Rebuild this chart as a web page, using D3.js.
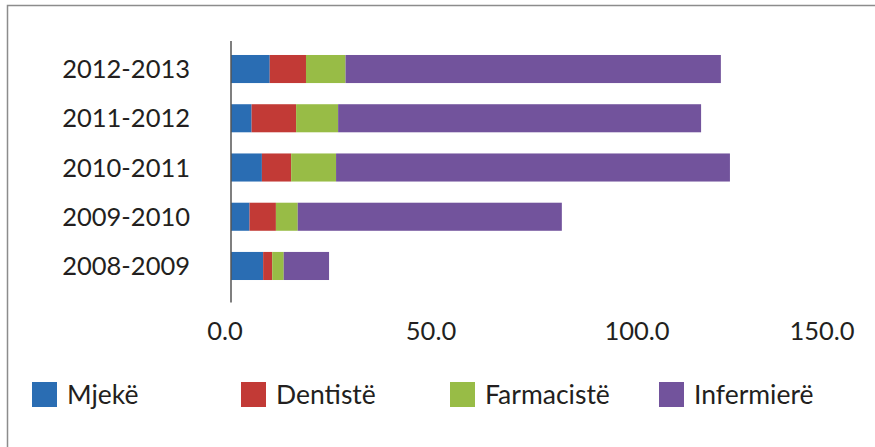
<!DOCTYPE html>
<html>
<head>
<meta charset="utf-8">
<script src="https://cdn.jsdelivr.net/npm/d3@7"></script>
<style>
  body { margin: 0; background: #fff; }
  text { font-family: Lato, "Open Sans", sans-serif; fill: #231f20; }
</style>
</head>
<body>
<div id="chart"></div>
<script>
// categories, bottom to top
var years = ["2008-2009", "2009-2010", "2010-2011", "2011-2012", "2012-2013"];
var series = ["Mjekë", "Dentistë", "Farmacistë", "Infermierë"];
var colors = ["#2a6db3", "#c23a36", "#98bc46", "#72539c"];

// values, same order as years
var mjeke      = [7.8, 4.5, 7.5, 5.0, 9.4];
var dentiste   = [2.2, 6.4, 7.1, 10.8, 8.8];
var farmaciste = [2.8, 5.3, 10.9, 10.2, 9.6];
var infermiere = [11.0, 64.1, 95.6, 88.1, 91.1];

var xTicks = [0, 50, 100, 150];

var width = 875, height = 447;

var svg = d3.select("#chart")
  .append("svg")
  .attr("width", width)
  .attr("height", height);

// outer frame
svg.append("rect")
  .attr("x", 7.5).attr("y", 5.5)
  .attr("width", 880).attr("height", 460)
  .attr("fill", "none")
  .attr("stroke", "#8c8c8c")
  .attr("stroke-width", 1.5);

var x = d3.scaleLinear()
  .domain([0, 150])
  .range([231, 849]);

var y = d3.scaleBand()
  .domain(years.slice().reverse())
  .range([44.4, 290.6])
  .paddingInner(0.43)
  .paddingOuter(0.215);

var table = years.map(function(yr, i) {
  return { year: yr, "Mjekë": mjeke[i], "Dentistë": dentiste[i],
           "Farmacistë": farmaciste[i], "Infermierë": infermiere[i] };
});

var stacked = d3.stack().keys(series)(table);

stacked.forEach(function(layer, k) {
  svg.append("g")
    .selectAll("rect")
    .data(layer)
    .enter()
    .append("rect")
    .attr("x", function(d) { return x(d[0]); })
    .attr("width", function(d) { return x(d[1]) - x(d[0]); })
    .attr("y", function(d) { return y(d.data.year); })
    .attr("height", y.bandwidth())
    .attr("fill", colors[k]);
});

// vertical axis line
svg.append("line")
  .attr("x1", x(0)).attr("x2", x(0))
  .attr("y1", 41).attr("y2", 302.5)
  .attr("stroke", "#555")
  .attr("stroke-width", 1.5);

// category labels
svg.append("g")
  .selectAll("text")
  .data(years)
  .enter()
  .append("text")
  .attr("x", 190)
  .attr("y", function(d) { return y(d) + y.bandwidth() / 2; })
  .attr("dy", "0.36em")
  .attr("text-anchor", "end")
  .style("font-size", "25.5px")
  .text(function(d) { return d; });

// x tick labels (last one pulled in like the original)
svg.append("g")
  .selectAll("text")
  .data(xTicks)
  .enter()
  .append("text")
  .attr("x", function(d, i) { return x(d) - 6 - (i == xTicks.length - 1 ? 21 : 0); })
  .attr("y", 340)
  .attr("text-anchor", "middle")
  .style("font-size", "25.5px")
  .text(function(d) { return d3.format(".1f")(d); });

// legend
var legend = svg.append("g")
  .selectAll("g")
  .data(series)
  .enter()
  .append("g")
  .attr("transform", function(d, i) { return "translate(" + (32 + i * 209) + ",382)"; });

legend.append("rect")
  .attr("width", 25).attr("height", 25)
  .attr("fill", function(d, i) { return colors[i]; });

legend.append("text")
  .attr("x", 35)
  .attr("y", 12.5)
  .attr("dy", "0.36em")
  .style("font-size", "26.5px")
  .text(function(d) { return d; });
</script>
</body>
</html>
